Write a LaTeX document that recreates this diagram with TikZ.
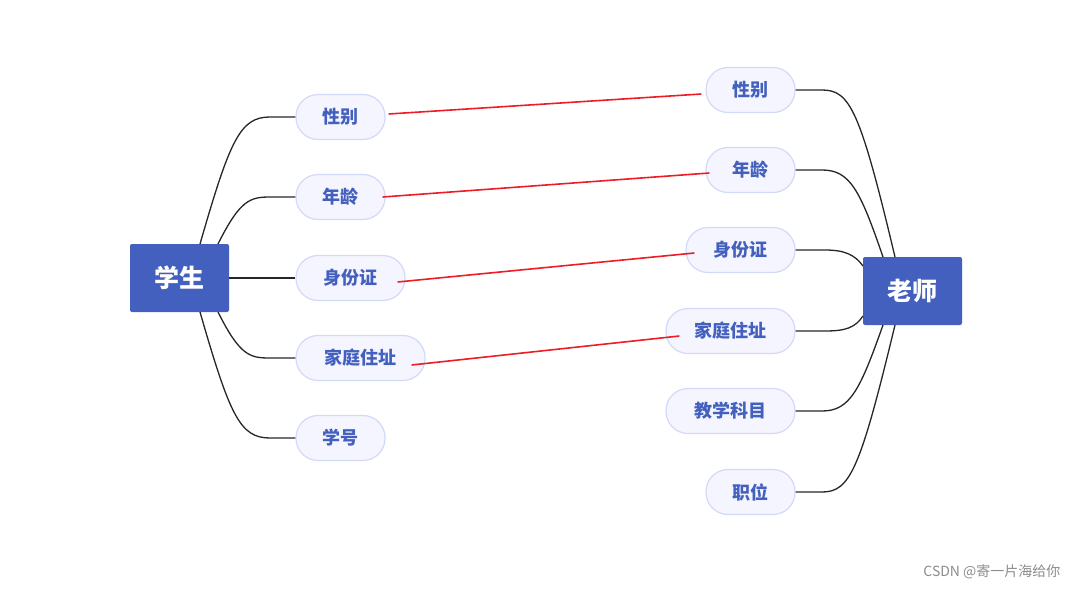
\documentclass[tikz,border=0pt]{standalone}
\usepackage{fontspec}
\setmainfont{Noto Sans CJK SC}
\newfontfamily\cjkb[BoldFont={Noto Sans CJK SC Bold}]{Noto Sans CJK SC}
\definecolor{mainblue}{HTML}{4360BE}
\definecolor{pillfill}{HTML}{F4F5FE}
\definecolor{pillline}{HTML}{D3D9F8}
\definecolor{redl}{HTML}{EE1C25}
\begin{document}
\begin{tikzpicture}[x=1pt,y=-1pt,
 root/.style={fill=mainblue,rounded corners=2pt,minimum width=99pt,minimum height=68pt,text=white,font=\fontsize{25}{25}\selectfont\bfseries,inner sep=0},
 pill/.style={fill=pillfill,draw=pillline,line width=1.2pt,rounded corners=22pt,minimum height=45pt,text=mainblue,font=\fontsize{18}{18}\selectfont\bfseries,inner sep=0},
 link/.style={draw=black!85,line width=1.3pt},
 redline/.style={draw=redl,line width=1.6pt}]
\useasboundingbox (0,0) rectangle (1079,591);
\node[root] (S) at (179.5,278) {学生};
\node[root] (T) at (912.5,291) {老师};
\node[pill,minimum width=89pt] (l1) at (340.5,117) {性别};
\node[pill,minimum width=89pt] (l2) at (340.5,197) {年龄};
\node[pill,minimum width=109pt] (l3) at (350.5,278) {身份证};
\node[pill,minimum width=129pt] (l4) at (360.5,358) {家庭住址};
\node[pill,minimum width=89pt] (l5) at (340.5,438) {学号};
\node[pill,minimum width=89pt] (r1) at (750.5,90) {性别};
\node[pill,minimum width=89pt] (r2) at (750.5,170) {年龄};
\node[pill,minimum width=109pt] (r3) at (740.5,250) {身份证};
\node[pill,minimum width=129pt] (r4) at (730.5,331) {家庭住址};
\node[pill,minimum width=129pt] (r5) at (730.5,411) {教学科目};
\node[pill,minimum width=89pt] (r6) at (750.5,492) {职位};
% left connectors
\draw[link] (200,244) .. controls (230,140) and (240,117) .. (270,117) -- (l1.west);
\draw[link] (218,244) .. controls (240,200) and (250,197) .. (270,197) -- (l2.west);
\draw[link] (S.east) -- (l3.west);
\draw[link] (218,312) .. controls (240,356) and (250,358) .. (270,358) -- (l4.west);
\draw[link] (200,312) .. controls (230,416) and (240,438) .. (270,438) -- (l5.west);
% right connectors
\draw[link] (r1.east) -- (822,90) .. controls (850,90) and (860,110) .. (895,257);
\draw[link] (r2.east) -- (822,170) .. controls (850,170) and (860,190) .. (883,257);
\draw[link] (r3.east) -- (825,250) .. controls (845,250) and (855,255) .. (863,266);
\draw[link] (r4.east) -- (825,331) .. controls (845,331) and (855,328) .. (863,316);
\draw[link] (r5.east) -- (822,411) .. controls (850,411) and (860,390) .. (883,325);
\draw[link] (r6.east) -- (822,492) .. controls (850,492) and (860,470) .. (895,325);
% red lines
\draw[redline] ([shift={(3,-3)}]l1.east) -- ([shift={(-4,4)}]r1.west);
\draw[redline] ([shift={(-3,0)}]l2.east) -- ([shift={(4,3)}]r2.west);
\draw[redline] ([shift={(-8,4)}]l3.east) -- ([shift={(9,3)}]r3.west);
\draw[redline] ([shift={(-14,7)}]l4.east) -- ([shift={(14,5)}]r4.west);
\node[anchor=east,text=black!45,font=\fontsize{14}{14}\selectfont] (wm) at (1064,572) {CSDN @寄一片海给你};
\end{tikzpicture}
\end{document}
